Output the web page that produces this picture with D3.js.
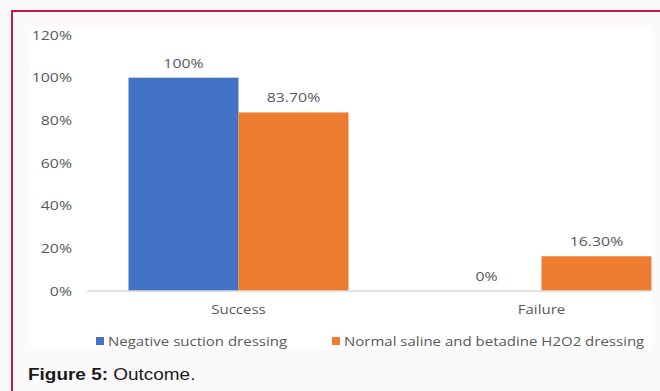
<!DOCTYPE html>
<html>
<head>
<meta charset="utf-8">
<script src="https://cdn.jsdelivr.net/npm/d3@7"></script>
<style>
  html, body { margin: 0; padding: 0; background: #fcf9fa; }
  svg { display: block; }
</style>
</head>
<body>
<svg id="fig" width="660" height="391"></svg>
<script>
// Outcome by dressing type
const categories = ["Success", "Failure"];
const seriesNames = ["Negative suction dressing", "Normal saline and betadine H2O2 dressing"];
const negativeSuction = [100, 0];
const salineBetadine = [83.7, 16.3];
const valueLabels = [["100%", "0%"], ["83.70%", "16.30%"]];
const yTicks = [0, 20, 40, 60, 80, 100, 120];
const colors = ["#4472C4", "#ED7D31"];

const series = [negativeSuction, salineBetadine];
const svg = d3.select("#fig");
const font = "'Open Sans', sans-serif";
const textColor = "#595959";
const wordStretch = 1.155, numStretch = 1.22;

// places a horizontally widened text label at (x, y)
function label(parent, x, y, str, anchor, sx, size) {
  return parent.append("text")
    .attr("transform", `translate(${x},${y}) scale(${sx},1)`)
    .attr("text-anchor", anchor)
    .attr("font-family", font).attr("font-size", size || 13).attr("fill", textColor)
    .text(str);
}

// figure frame
svg.append("rect").attr("x", 0).attr("y", 0).attr("width", 660).attr("height", 391).attr("fill", "#fcf9fa");
svg.append("line").attr("x1", 11).attr("x2", 660).attr("y1", 11).attr("y2", 11)
  .attr("stroke", "#c8154a").attr("stroke-width", 2);
svg.append("line").attr("x1", 12).attr("x2", 12).attr("y1", 10).attr("y2", 391)
  .attr("stroke", "#c8154a").attr("stroke-width", 2);

// chart area
svg.append("rect").attr("x", 31).attr("y", 26).attr("width", 622).attr("height", 324).attr("fill", "#ffffff");

svg.append("clipPath").attr("id", "area").append("rect")
  .attr("x", 31).attr("y", 26).attr("width", 621).attr("height", 324);

const plotLeft = 87, plotBottom = 291, plotTop = 35;
const x = d3.scaleBand().domain(categories).range([plotLeft, 693])
  .paddingInner(0.274).paddingOuter(0.137);
const xs = d3.scaleBand().domain(d3.range(series.length)).range([0, x.bandwidth()]);
const y = d3.scaleLinear().domain([0, 120]).range([plotBottom, plotTop]);

const chart = svg.append("g").attr("clip-path", "url(#area)");

// y axis: ticks positioned by the axis, labels widened in place
const yAxis = d3.axisLeft(y).tickValues(yTicks).tickFormat(d => d + "%").tickSize(0).tickPadding(0);
const yg = svg.append("g").attr("transform", `translate(${plotLeft - 15},0)`).call(yAxis);
yg.select(".domain").remove();
yg.selectAll(".tick text")
  .attr("font-family", font).attr("font-size", 13).attr("fill", textColor)
  .attr("x", 0).attr("dy", "0.32em").attr("transform", `scale(${numStretch},1)`);

// bars and value labels
series.forEach((vals, si) => {
  chart.selectAll(null).data(categories).enter().append("rect")
    .attr("x", d => x(d) + xs(si))
    .attr("width", xs.bandwidth())
    .attr("y", (d, i) => y(vals[i]))
    .attr("height", (d, i) => y(0) - y(vals[i]))
    .attr("fill", colors[si]);
  categories.forEach((c, i) => {
    label(chart, x(c) + xs(si) + xs.bandwidth() / 2, y(vals[i]) - 10, valueLabels[si][i], "middle", numStretch);
  });
});

// x axis
const xAxis = d3.axisBottom(x).tickSize(0).tickPadding(14);
const xg = chart.append("g").attr("transform", `translate(0,${plotBottom})`).call(xAxis);
xg.select(".domain").attr("stroke", "#d9d9d9").attr("stroke-width", 1.5)
  .attr("d", `M0,0H${651 - plotLeft}`).attr("transform", `translate(${plotLeft},0)`);
xg.selectAll(".tick text")
  .attr("font-family", font).attr("font-size", 13).attr("fill", textColor)
  .attr("transform", `scale(${wordStretch},1)`);

// legend
const legendItems = [{ x: 96, name: seriesNames[0], c: colors[0] }, { x: 332, name: seriesNames[1], c: colors[1] }];
const lg = svg.append("g");
legendItems.forEach(it => {
  lg.append("rect").attr("x", it.x).attr("y", 337).attr("width", 8).attr("height", 8).attr("fill", it.c);
  label(lg, it.x + 12, 346, it.name, "start", wordStretch);
});

// caption
const cap = svg.append("text").attr("transform", "translate(28,380) scale(1.2,1)")
  .attr("font-family", "'Liberation Sans', Arial, sans-serif").attr("font-size", 15.8).attr("fill", "#1a1a1a");
cap.append("tspan").attr("font-weight", "bold").text("Figure 5:");
cap.append("tspan").text(" Outcome.");
</script>
</body>
</html>
